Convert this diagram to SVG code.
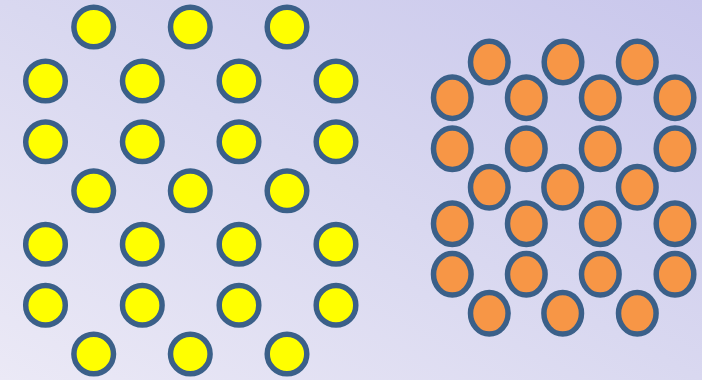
<svg xmlns="http://www.w3.org/2000/svg" width="702" height="380" viewBox="0 0 702 380">
<defs>
<linearGradient id="bg" x1="0" y1="1" x2="1" y2="0">
<stop offset="0" stop-color="#ebe9f6"/>
<stop offset="0.5" stop-color="#d9d8f0"/>
<stop offset="1" stop-color="#c9c7ec"/>
</linearGradient>
<style>
.y{fill:#ffff00;stroke:#3b6089;stroke-width:5.5}
.o{fill:#f79646;stroke:#3b6089;stroke-width:5.5}
</style>
</defs>
<rect width="702" height="380" fill="url(#bg)"/>
<g id="yellow">
<circle class="y" cx="93.7" cy="27" r="19.8"/>
<circle class="y" cx="190.3" cy="27" r="19.8"/>
<circle class="y" cx="287" cy="27" r="19.8"/>
<circle class="y" cx="45.5" cy="81" r="19.8"/>
<circle class="y" cx="142.3" cy="81" r="19.8"/>
<circle class="y" cx="239" cy="81" r="19.8"/>
<circle class="y" cx="336" cy="81" r="19.8"/>
<circle class="y" cx="45.5" cy="141.7" r="19.8"/>
<circle class="y" cx="142.3" cy="141.7" r="19.8"/>
<circle class="y" cx="239" cy="141.7" r="19.8"/>
<circle class="y" cx="336" cy="141.7" r="19.8"/>
<circle class="y" cx="93.7" cy="190.7" r="19.8"/>
<circle class="y" cx="190.3" cy="190.7" r="19.8"/>
<circle class="y" cx="287" cy="190.7" r="19.8"/>
<circle class="y" cx="45.5" cy="244.3" r="19.8"/>
<circle class="y" cx="142.3" cy="244.3" r="19.8"/>
<circle class="y" cx="239" cy="244.3" r="19.8"/>
<circle class="y" cx="336" cy="244.3" r="19.8"/>
<circle class="y" cx="45.5" cy="305.3" r="19.8"/>
<circle class="y" cx="142.3" cy="305.3" r="19.8"/>
<circle class="y" cx="239" cy="305.3" r="19.8"/>
<circle class="y" cx="336" cy="305.3" r="19.8"/>
<circle class="y" cx="93.7" cy="354" r="19.8"/>
<circle class="y" cx="190.3" cy="354" r="19.8"/>
<circle class="y" cx="287" cy="354" r="19.8"/>
</g>
<g id="orange">
<ellipse class="o" cx="489.3" cy="62" rx="18.8" ry="20.8"/>
<ellipse class="o" cx="563" cy="62" rx="18.8" ry="20.8"/>
<ellipse class="o" cx="637.3" cy="62" rx="18.8" ry="20.8"/>
<ellipse class="o" cx="452.3" cy="97.7" rx="18.8" ry="20.8"/>
<ellipse class="o" cx="526.3" cy="97.7" rx="18.8" ry="20.8"/>
<ellipse class="o" cx="600.3" cy="97.7" rx="18.8" ry="20.8"/>
<ellipse class="o" cx="675" cy="97.7" rx="18.8" ry="20.8"/>
<ellipse class="o" cx="452.3" cy="148.7" rx="18.8" ry="20.8"/>
<ellipse class="o" cx="526.3" cy="148.7" rx="18.8" ry="20.8"/>
<ellipse class="o" cx="600.3" cy="148.7" rx="18.8" ry="20.8"/>
<ellipse class="o" cx="675" cy="148.7" rx="18.8" ry="20.8"/>
<ellipse class="o" cx="489.3" cy="187.3" rx="18.8" ry="20.8"/>
<ellipse class="o" cx="562.7" cy="187.3" rx="18.8" ry="20.8"/>
<ellipse class="o" cx="637.3" cy="187.3" rx="18.8" ry="20.8"/>
<ellipse class="o" cx="452.3" cy="223.7" rx="18.8" ry="20.8"/>
<ellipse class="o" cx="526.3" cy="223.7" rx="18.8" ry="20.8"/>
<ellipse class="o" cx="600.3" cy="223.7" rx="18.8" ry="20.8"/>
<ellipse class="o" cx="675" cy="223.7" rx="18.8" ry="20.8"/>
<ellipse class="o" cx="452.3" cy="274.3" rx="18.8" ry="20.8"/>
<ellipse class="o" cx="526.3" cy="274.3" rx="18.8" ry="20.8"/>
<ellipse class="o" cx="600.3" cy="274.3" rx="18.8" ry="20.8"/>
<ellipse class="o" cx="675" cy="274.3" rx="18.8" ry="20.8"/>
<ellipse class="o" cx="489.3" cy="313.3" rx="18.8" ry="20.8"/>
<ellipse class="o" cx="562.7" cy="313.3" rx="18.8" ry="20.8"/>
<ellipse class="o" cx="637.3" cy="313.3" rx="18.8" ry="20.8"/>
</g>
</svg>
